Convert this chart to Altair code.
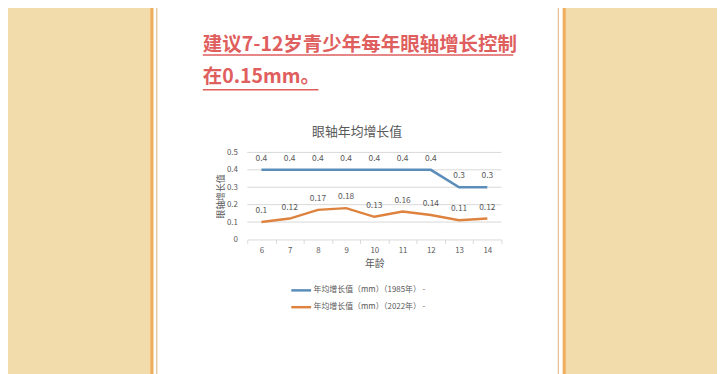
import altair as alt
import pandas as pd

# ---------------- data ----------------
ages = ["6", "7", "8", "9", "10", "11", "12", "13", "14"]
growth_1985 = [0.4, 0.4, 0.4, 0.4, 0.4, 0.4, 0.4, 0.3, 0.3]
growth_2022 = [0.1, 0.12, 0.17, 0.18, 0.13, 0.16, 0.14, 0.11, 0.12]
series_names = ["年均增长值（mm）（1985年） -", "年均增长值（mm）（2022年） -"]
series_colors = ["#5A8DBA", "#DE833F"]
y_ticks = [0, 0.1, 0.2, 0.3, 0.4, 0.5]

chart_title = "眼轴年均增长值"
x_title = "年龄"
y_title = "眼轴增长值"
heading_line1 = "建议7-12岁青少年每年眼轴增长控制"
heading_line2 = "在0.15mm。"

rows = []
for name, vals in zip(series_names, [growth_1985, growth_2022]):
    for a, v in zip(ages, vals):
        rows.append({"age": a, "value": v, "series": name})
df = pd.DataFrame(rows)

# ---------------- style ----------------
FONT = "Noto Sans CJK SC"
GRAY = "#595959"
GRID = "#D9D9D9"
BEIGE = "#F2DCAC"
ORANGE = "#EFAE5C"
THIN = "#DDB27A"
RED = "#DF5E5E"

W, H = 257, 88
PAD = {"left": 242, "top": 144, "right": 717 - 242 - 257, "bottom": 366 - 144 - 88}

one = alt.Data(values=[{}])

x_axis = alt.Axis(
    title=x_title, titleFont=FONT, titleFontSize=10, titleFontWeight="normal",
    titleColor=GRAY, titleX=W / 2, titleY=24, titleBaseline="middle",
    labelFont=FONT, labelFontSize=8, labelColor=GRAY, labelAngle=0, labelPadding=3,
    tickBand="extent", tickSize=4, tickColor=GRID, domainColor=GRID,
    grid=False, zindex=1,
)
y_axis = alt.Axis(
    values=y_ticks, format="~g", labelOverlap=False,
    title=y_title, titleFont=FONT, titleFontSize=9, titleFontWeight="normal",
    titleColor=GRAY, titleX=-27, titleY=H / 2, titleAngle=270,
    titleAlign="center", titleBaseline="middle",
    labelFont=FONT, labelFontSize=8, labelColor=GRAY, labelPadding=10,
    ticks=False, domain=False, grid=False, zindex=1,
)
x_scale = alt.Scale(type="band", paddingInner=0, paddingOuter=0)
y_scale = alt.Scale(domain=[0, 0.5], nice=False)


def x_enc():
    return alt.X("age:N", sort=ages, bandPosition=0.5, scale=x_scale, axis=x_axis)


def y_enc():
    return alt.Y("value:Q", scale=y_scale, axis=y_axis)


color_enc = alt.Color(
    "series:N",
    scale=alt.Scale(domain=series_names, range=series_colors),
    legend=alt.Legend(
        title=None, orient="none", legendX=43, legendY=128, direction="vertical",
        symbolType="stroke", symbolSize=400, symbolStrokeWidth=2.5,
        labelFont=FONT, labelFontSize=8, labelColor=GRAY, labelOffset=1,
        labelLimit=400, rowPadding=-1, padding=0,
    ),
)


def rect(x1, x2, y1, y2, color):
    return alt.Chart(one).mark_rect(color=color).encode(
        x=alt.value(x1), x2=alt.value(x2), y=alt.value(y1), y2=alt.value(y2)
    )


background = [
    rect(-95, 319, -160, 230, "white"),
    rect(-98, -95, -160, 230, ORANGE),
    rect(319, 322, -160, 230, ORANGE),
    rect(-92, -91, -160, 230, THIN),
    rect(314, 315, -160, 230, THIN),
]

heading1 = alt.Chart(one).mark_text(
    font=FONT, fontSize=19.7, fontWeight="bold", color=RED, align="left", baseline="middle"
).encode(x=alt.value(-45), y=alt.value(-109), text=alt.value(heading_line1))
heading2 = alt.Chart(one).mark_text(
    font=FONT, fontSize=19.7, fontWeight="bold", color=RED, align="left", baseline="middle"
).encode(x=alt.value(-45), y=alt.value(-76), text=alt.value(heading_line2))
underline1 = alt.Chart(one).mark_rule(color=RED, strokeWidth=1.5).encode(
    x=alt.value(-45), x2=alt.value(269), y=alt.value(-98.5))
underline2 = alt.Chart(one).mark_rule(color=RED, strokeWidth=1.5).encode(
    x=alt.value(-45), x2=alt.value(72), y=alt.value(-63.5))

title_text = alt.Chart(one).mark_text(
    font=FONT, fontSize=13, color=GRAY, align="center", baseline="middle"
).encode(x=alt.value(111), y=alt.value(-21), text=alt.value(chart_title))

grid = alt.Chart(pd.DataFrame({"value": y_ticks[1:]})).mark_rule(
    color=GRID, strokeWidth=1
).encode(y=y_enc(), x=alt.value(0), x2=alt.value(W))

base = alt.Chart(df)
lines = base.mark_line(strokeWidth=2.5).encode(x=x_enc(), y=y_enc(), color=color_enc)
labels = base.mark_text(
    font=FONT, fontSize=8.5, color=GRAY, dy=-12, baseline="middle"
).encode(
    x=x_enc(),
    y=y_enc(),
    text=alt.Text("value:Q", format="~g"),
)

chart = alt.layer(
    *background, heading1, heading2, underline1, underline2, title_text,
    grid, lines, labels,
).properties(
    width=W, height=H,
    autosize=alt.AutoSizeParams(type="none"),
    padding=PAD,
    background=BEIGE,
).configure_view(stroke=None)

chart.save("out.html", embed_options={"renderer": "svg", "actions": False})
